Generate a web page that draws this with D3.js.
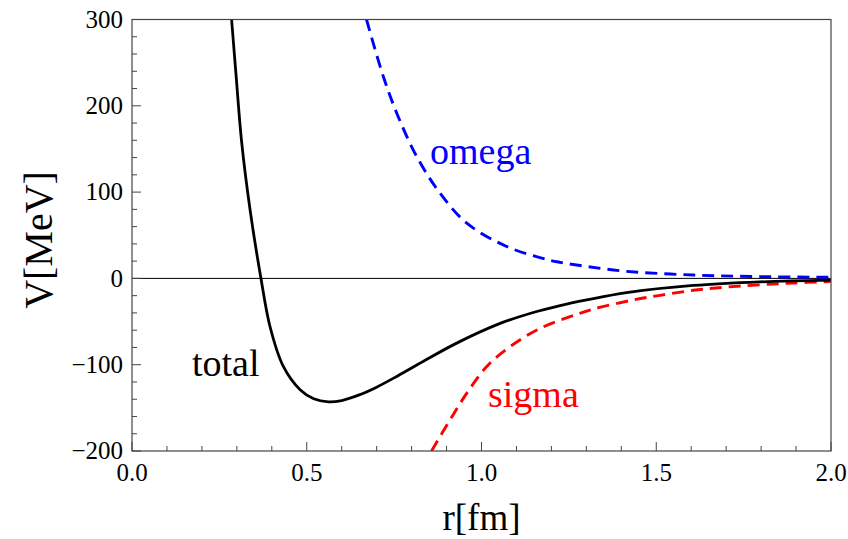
<!DOCTYPE html>
<html>
<head>
<meta charset="utf-8">
<script src="https://cdn.jsdelivr.net/npm/d3@7"></script>
<style>
  html, body { margin: 0; padding: 0; background: #fff; }
  svg, svg text { font-family: "Liberation Serif", "DejaVu Serif", serif; }
</style>
</head>
<body>
<svg id="chart" width="848" height="539"></svg>
<script>
// ---- data ----
const totalR = [0.285, 0.298, 0.314, 0.338, 0.369, 0.395, 0.433, 0.481, 0.520, 0.562, 0.600, 0.650, 0.700, 0.760, 0.834, 0.929, 1.048, 1.148, 1.225, 1.301, 1.415, 1.606, 1.797, 2.0];
const totalV = [300, 234, 157, 79, 0, -56, -102, -129, -139.5, -143, -141.5, -135, -126, -113, -96, -75, -53, -39.5, -31.5, -25, -16.5, -8.2, -4, -2];

const sigmaR = [0.857, 0.910, 0.958, 1.015, 1.082, 1.167, 1.282, 1.320, 1.434, 1.511, 1.606, 1.702, 1.892, 2.0];
const sigmaV = [-200, -164, -133, -102, -79, -58, -40.4, -35.5, -25, -19.6, -13.8, -10, -5.3, -3.5];

const omegaR = [0.671, 0.719, 0.762, 0.815, 0.881, 0.958, 1.072, 1.186, 1.225, 1.305, 1.415, 1.606, 1.797, 2.0];
const omegaV = [300, 234, 187, 141, 99, 64, 37, 22, 18.6, 13.6, 8.2, 3.9, 2.1, 1.3];

const xTicks = [0.0, 0.5, 1.0, 1.5, 2.0];
const yTicks = [-200, -100, 0, 100, 200, 300];

// ---- layout ----
const FONT = "'Liberation Serif', 'DejaVu Serif', serif";
const svg = d3.select("#chart").attr("font-family", FONT);
const L = 132, R = 831, T = 19.5, B = 451;
const x = d3.scaleLinear().domain([0, 2]).range([L, R]);
const y = d3.scaleLinear().domain([-200, 300]).range([B, T]);

svg.append("defs").append("clipPath").attr("id", "clip")
  .append("rect").attr("x", L).attr("y", T).attr("width", R - L).attr("height", B - T);

// zero line
svg.append("line").attr("x1", L).attr("x2", R).attr("y1", y(0)).attr("y2", y(0))
  .attr("stroke", "#000").attr("stroke-width", 1);

// ticks (inward)
const xMinor = d3.range(0, 2.0001, 0.1);
const yMinor = d3.range(-200, 300.001, 20);
const tickG = svg.append("g").attr("stroke", "#444").attr("stroke-width", 1);
xMinor.forEach(v => {
  const major = Math.abs(v * 2 - Math.round(v * 2)) < 1e-6;
  tickG.append("line").attr("x1", x(v)).attr("x2", x(v))
    .attr("y1", B).attr("y2", B - (major ? 9 : 5));
});
yMinor.forEach(v => {
  const major = Math.abs(v / 100 - Math.round(v / 100)) < 1e-6;
  tickG.append("line").attr("y1", y(v)).attr("y2", y(v))
    .attr("x1", L).attr("x2", L + (major ? 9 : 5));
});

// tick labels
svg.append("g").selectAll("text").data(xTicks).join("text")
  .attr("x", d => x(d)).attr("y", 481)
  .attr("font-family", FONT)
  .attr("text-anchor", "middle").attr("font-size", 25).attr("fill", "#000")
  .text(d => d.toFixed(1));
svg.append("g").selectAll("text").data(yTicks).join("text")
  .attr("x", 123).attr("y", d => y(d)).attr("dy", "0.33em")
  .attr("font-family", FONT)
  .attr("text-anchor", "end").attr("font-size", 25).attr("fill", "#000")
  .text(d => d < 0 ? "\u2212" + Math.abs(d) : d);

// curves
const line = d3.line().x(d => x(d[0])).y(d => y(d[1])).curve(d3.curveCatmullRom.alpha(0.5));
const plot = svg.append("g").attr("clip-path", "url(#clip)");
plot.append("path").datum(omegaR.map((r, i) => [r, omegaV[i]]))
  .attr("d", line).attr("fill", "none").attr("stroke", "#0000ff")
  .attr("stroke-width", 2.9).attr("stroke-dasharray", "12,7");
plot.append("path").datum(sigmaR.map((r, i) => [r, sigmaV[i]]))
  .attr("d", line).attr("fill", "none").attr("stroke", "#ff0000")
  .attr("stroke-width", 2.9).attr("stroke-dasharray", "12,7");
plot.append("path").datum(totalR.map((r, i) => [r, totalV[i]]))
  .attr("d", line).attr("fill", "none").attr("stroke", "#000")
  .attr("stroke-width", 2.8);

// frame
svg.append("rect").attr("x", L).attr("y", T).attr("width", R - L).attr("height", B - T)
  .attr("fill", "none").attr("stroke", "#444").attr("stroke-width", 1.2);

// in-plot labels
svg.append("text").attr("x", 430).attr("y", 164).attr("font-family", FONT).attr("font-size", 38).attr("fill", "#0000ff").text("omega");
svg.append("text").attr("x", 488).attr("y", 407).attr("font-family", FONT).attr("font-size", 38).attr("fill", "#ff0000").text("sigma");
svg.append("text").attr("x", 192).attr("y", 376).attr("font-family", FONT).attr("font-size", 38).attr("fill", "#000").text("total");

// axis titles
svg.append("text").attr("x", (L + R) / 2).attr("y", 530).attr("text-anchor", "middle")
  .attr("font-family", FONT).attr("font-size", 37).attr("fill", "#000").text("r[fm]");
svg.append("text").attr("transform", "translate(52,240) rotate(-90)")
  .attr("font-family", FONT)
  .attr("text-anchor", "middle").attr("font-size", 40).attr("fill", "#000").text("V[MeV]");
</script>
</body>
</html>
